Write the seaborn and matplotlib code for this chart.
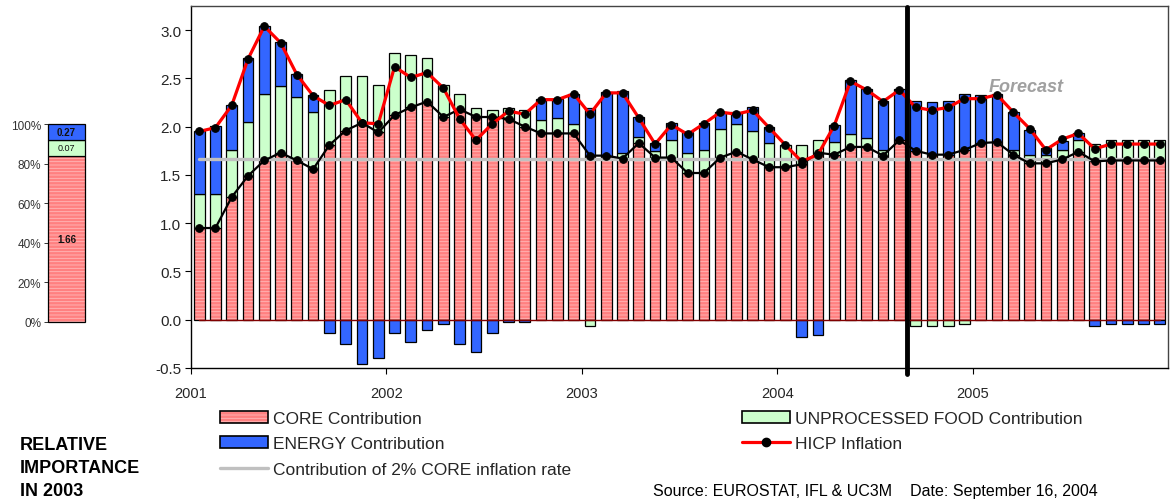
"""
Euro area HICP inflation: contributions by component, 2001-2005 (with forecast)
"""
import numpy as np
import pandas as pd
import matplotlib
matplotlib.use("Agg")
import matplotlib.pyplot as plt
import seaborn as sns
from matplotlib.patches import Patch
from matplotlib.lines import Line2D
from matplotlib.legend_handler import HandlerTuple

sns.set_theme(style="white")
plt.rcParams["font.family"] = ["Liberation Sans", "DejaVu Sans"]
plt.rcParams["hatch.linewidth"] = 0.6

# ----------------------------------------------------------------
# Data (percentage points)
# ----------------------------------------------------------------
years = ["2001", "2002", "2003", "2004", "2005"]

core = [0.95, 0.95, 1.27, 1.49, 1.65, 1.73, 1.65, 1.56, 1.81, 1.96, 2.04, 1.94,
        2.12, 2.20, 2.26, 2.10, 2.18, 2.10, 2.10, 2.08, 2.00, 1.93, 1.93, 1.93,
        1.70, 1.70, 1.67, 1.83, 1.68, 1.68, 1.52, 1.52, 1.68, 1.74, 1.66, 1.58,
        1.58, 1.61, 1.73, 1.71, 1.79, 1.79, 1.70, 1.86, 1.75, 1.71, 1.71, 1.76,
        1.83, 1.84, 1.71, 1.62, 1.62, 1.66, 1.74, 1.64, 1.65, 1.65, 1.65, 1.65]

food = [0.35, 0.35, 0.49, 0.56, 0.69, 0.69, 0.66, 0.59, 0.57, 0.57, 0.48, 0.49,
        0.64, 0.54, 0.45, 0.33, 0.16, 0.09, 0.07, 0.11, 0.17, 0.14, 0.16, 0.10,
        -0.06, 0.00, 0.06, 0.06, 0.07, 0.18, 0.21, 0.24, 0.30, 0.29, 0.30, 0.25,
        0.23, 0.20, 0.13, 0.13, 0.13, 0.09, 0.06, 0.00, -0.06, -0.06, -0.06, -0.04,
        0.00, 0.00, 0.05, 0.09, 0.09, 0.10, 0.12, 0.18, 0.21, 0.21, 0.21, 0.21]

energy = [0.66, 0.71, 0.46, 0.66, 0.70, 0.46, 0.24, 0.18, -0.14, -0.25, -0.46, -0.40,
          -0.14, -0.23, -0.11, -0.04, -0.25, -0.33, -0.14, -0.02, -0.02, 0.22, 0.20, 0.31,
          0.49, 0.66, 0.64, 0.21, 0.08, 0.18, 0.21, 0.28, 0.17, 0.12, 0.24, 0.17,
          0.00, -0.18, -0.16, 0.18, 0.56, 0.51, 0.51, 0.53, 0.52, 0.55, 0.56, 0.58,
          0.50, 0.50, 0.39, 0.26, 0.07, 0.09, 0.07, -0.06, -0.04, -0.04, -0.04, -0.04]

hicp = [1.95, 1.99, 2.22, 2.70, 3.04, 2.87, 2.54, 2.32, 2.22, 2.28, 2.04, 2.03,
        2.62, 2.51, 2.56, 2.40, 2.08, 1.86, 2.03, 2.16, 2.13, 2.28, 2.28, 2.34,
        2.13, 2.35, 2.35, 2.09, 1.82, 2.02, 1.92, 2.03, 2.15, 2.13, 2.17, 1.99,
        1.81, 1.64, 1.71, 2.01, 2.47, 2.38, 2.26, 2.38, 2.20, 2.17, 2.20, 2.29,
        2.29, 2.33, 2.15, 1.98, 1.76, 1.87, 1.93, 1.77, 1.82, 1.82, 1.82, 1.82]

core_2pct = 1.66            # contribution of 2% core inflation
forecast_start = "2004-09"

rel_labels = ["1.66", "0.07", "0.27"]   # core, unprocessed food, energy in 2003
rel_share = [84, 8, 8]                  # bar heights as drawn (%)

months = pd.period_range("2001-01", "2005-12", freq="M")
df = pd.DataFrame({"month": months, "core": core, "food": food,
                   "energy": energy, "hicp": hicp})
df["x"] = np.arange(len(df)) + 0.5

# stack positives on top of core, negatives down from zero
pos = df["core"].to_numpy().copy()
neg = np.zeros(len(df))
bottoms = {}
for col in ["food", "energy"]:
    v = df[col].to_numpy()
    bottoms[col] = np.where(v >= 0, pos, neg)
    pos = pos + np.clip(v, 0, None)
    neg = neg + np.clip(v, None, 0)

PINK, STRIPE = "#FF8080", "#FFB8B8"
GREEN, BLUE = "#CCFFCC", "#3366FF"
GREY = "#C0C0C0"

fig = plt.figure(figsize=(11.75, 5.02), dpi=100)
ax = fig.add_axes([191 / 1175, 1 - 369 / 502, 977 / 1175, 362 / 502])

W = 0.66
x = df["x"]
ax.bar(x, df["core"], W, color=PINK, edgecolor=STRIPE, hatch="-----", linewidth=0, zorder=2)
ax.bar(x, df["core"], W, fill=False, edgecolor="black", linewidth=0.9, zorder=2)
ax.bar(x, df["food"], W, bottom=bottoms["food"], color=GREEN, edgecolor="black",
       linewidth=0.9, zorder=2)
ax.bar(x, df["energy"], W, bottom=bottoms["energy"], color=BLUE, edgecolor="black",
       linewidth=0.9, zorder=2)

ax.plot([x.iloc[0], x.iloc[-1]], [0, 0], color="#800000", lw=1.0, zorder=3)
ax.plot([x.iloc[0], x.iloc[-1]], [core_2pct, core_2pct], color=GREY, lw=2.4, zorder=3)

sns.lineplot(data=df, x="x", y="core", color="black", lw=1.6, marker="o", markersize=5.5,
             markerfacecolor="black", markeredgecolor="black", ax=ax, zorder=4)
sns.lineplot(data=df, x="x", y="hicp", color="red", lw=2.3, marker="o", markersize=5.5,
             markerfacecolor="black", markeredgecolor="black", ax=ax, zorder=5)

fx = list(df["month"].astype(str)).index(forecast_start)
ax.plot([fx, fx], [-0.56, 3.24], color="black", lw=3.5, zorder=6, clip_on=False)
ax.text(51.3, 2.42, "Forecast", ha="center", va="center", fontsize=13,
        fontweight="bold", fontstyle="italic", color="#A0A0A0")

ax.set_xlim(0, 60)
ax.set_ylim(-0.5, 3.25)
ax.set_xticks(np.arange(0, 60, 12), years)
yt = np.arange(-0.5, 3.01, 0.5)
ax.set_yticks(yt, [f"{v:.1f}" for v in yt])
ax.set_xlabel("")
ax.set_ylabel("")
ax.tick_params(axis="both", direction="out", length=4, width=0.8, color="black",
               bottom=True, left=True)
ax.tick_params(axis="y", labelsize=11, pad=3)
ax.tick_params(axis="x", labelsize=10.5, pad=9)
for s in ax.spines.values():
    s.set_color("black")
    s.set_linewidth(1.0)
ax.spines["top"].set_color("#444444")
ax.spines["right"].set_color("#444444")

# ----------------------------------------------------------------
# Relative importance bar (left)
# ----------------------------------------------------------------
ax2 = fig.add_axes([48 / 1175, 1 - 323 / 502, 37 / 1175, 198 / 502])
b = 0
for share, lab, col, bold, fs in zip(rel_share, rel_labels, [PINK, GREEN, BLUE],
                                     [True, False, True], [7, 6.5, 7]):
    if col == PINK:
        ax2.bar(0, share, 1.0, bottom=b, color=PINK, edgecolor=STRIPE, hatch="-----",
                linewidth=0, clip_on=False)
        ax2.bar(0, share, 1.0, bottom=b, fill=False, edgecolor="black", linewidth=0.9,
                clip_on=False)
    else:
        ax2.bar(0, share, 1.0, bottom=b, color=col, edgecolor="black", linewidth=0.9,
                clip_on=False)
    ax2.text(0, b + share / 2, lab, ha="center", va="center", fontsize=fs,
             fontweight="bold" if bold else "normal", color="#111111")
    b += share
ax2.set_xlim(-0.5, 0.5)
ax2.set_ylim(0, 100)
ax2.set_xticks([])
ax2.set_yticks(np.arange(0, 101, 20), [f"{v}%" for v in range(0, 101, 20)])
ax2.tick_params(axis="y", direction="out", length=3, width=0.7, color="#333333",
                labelsize=8.5, labelcolor="#333333", pad=2, left=True)
for s in ax2.spines.values():
    s.set_visible(False)

fig.text(20 / 1175, 1 - 437 / 502, "RELATIVE\nIMPORTANCE\nIN 2003", ha="left", va="top",
         fontsize=13, fontweight="bold", linespacing=1.45, color="black")

# ----------------------------------------------------------------
# Legends and source
# ----------------------------------------------------------------
core_h = (Patch(facecolor=PINK, edgecolor=STRIPE, hatch="-----", linewidth=0),
          Patch(fill=False, edgecolor="black", linewidth=1.2))
energy_h = Patch(facecolor=BLUE, edgecolor="black", linewidth=1.2)
grey_h = Line2D([], [], color=GREY, lw=2.4)
food_h = Patch(facecolor=GREEN, edgecolor="black", linewidth=1.2)
hicp_h = Line2D([], [], color="red", lw=2.3, marker="o", markersize=6,
                markerfacecolor="black", markeredgecolor="black")

leg_kw = dict(frameon=False, fontsize=12.5, handlelength=2.75, handleheight=0.7,
              handletextpad=0.3, labelspacing=0.58, borderpad=0, borderaxespad=0,
              loc="upper left")
fig.legend([core_h, energy_h, grey_h],
           ["CORE Contribution", "ENERGY Contribution", "Contribution of 2% CORE inflation rate"],
           bbox_to_anchor=(220 / 1175, 1 - 412 / 502),
           handler_map={tuple: HandlerTuple(ndivide=1, pad=0)}, **leg_kw)
fig.legend([food_h, hicp_h], ["UNPROCESSED FOOD Contribution", "HICP Inflation"],
           bbox_to_anchor=(742 / 1175, 1 - 412 / 502), **leg_kw)

fig.text(653 / 1175, 1 - 492 / 502,
         "Source: EUROSTAT, IFL & UC3M    Date: September 16, 2004",
         ha="left", va="center", fontsize=11.5, color="black")

fig.savefig("out.png", dpi=100)
